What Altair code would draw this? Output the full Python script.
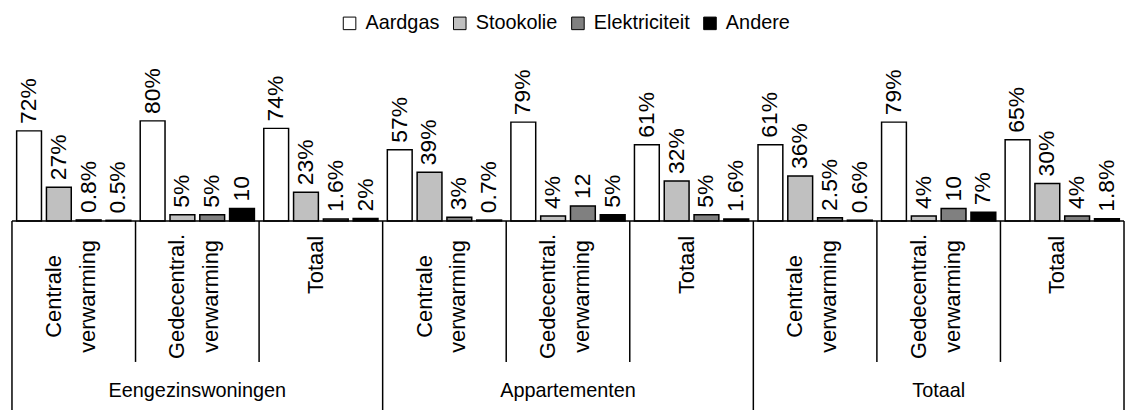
import altair as alt
import pandas as pd

FONT = "Liberation Sans"

outer_groups = ["Eengezinswoningen", "Appartementen", "Totaal"]
inner_groups = ["Centrale\nverwarming", "Gedecentral.\nverwarming", "Totaal"]
series = ["Aardgas", "Stookolie", "Elektriciteit", "Andere"]
series_colors = ["#ffffff", "#c0c0c0", "#808080", "#000000"]

aardgas = [72, 80, 74, 57, 79, 61, 61, 79, 65]
stookolie = [27, 5, 23, 39, 4, 32, 36, 4, 30]
elektriciteit = [0.8, 5, 1.6, 3, 12, 5, 2.5, 10, 4]
andere = [0.5, 10, 2, 0.7, 5, 1.6, 0.6, 7, 1.8]

aardgas_labels = ["72%", "80%", "74%", "57%", "79%", "61%", "61%", "79%", "65%"]
stookolie_labels = ["27%", "5%", "23%", "39%", "4%", "32%", "36%", "4%", "30%"]
elektriciteit_labels = ["0.8%", "5%", "1.6%", "3%", "12", "5%", "2.5%", "10", "4%"]
andere_labels = ["0.5%", "10", "2%", "0.7%", "5%", "1.6%", "0.6%", "7%", "1.8%"]

# build tables
keys, cell_outer, cell_inner, cell_pos = [], [], [], []
for oi, o in enumerate(outer_groups):
    for ii, inn in enumerate(inner_groups):
        keys.append(f"{oi}-{ii}")
        cell_outer.append(o)
        cell_inner.append(inn)
        cell_pos.append(ii)
cells = pd.DataFrame({"sub": keys, "outer": cell_outer, "inner": cell_inner, "pos": cell_pos})

rows = []
for s, vals, labs in zip(series,
                         [aardgas, stookolie, elektriciteit, andere],
                         [aardgas_labels, stookolie_labels, elektriciteit_labels, andere_labels]):
    for k, v, l in zip(keys, vals, labs):
        rows.append({"sub": k, "series": s, "value": v, "label": l})
bars_df = pd.DataFrame(rows)

W = 1120
H = 126

x_scale = alt.Scale(domain=keys, paddingInner=0, paddingOuter=0)
xo_scale = alt.Scale(domain=series, paddingInner=0.167, paddingOuter=0.157)
y_scale = alt.Scale(domain=[0, 100], nice=False, zero=True)
fill_scale = alt.Scale(domain=series, range=series_colors)

X = alt.X("sub:N", scale=x_scale, axis=None, sort=keys)
XO = alt.XOffset("series:N", scale=xo_scale, sort=series)
Y = alt.Y("value:Q", scale=y_scale, axis=None)

base = alt.Chart(bars_df)
bars = base.mark_bar(stroke="black", strokeWidth=1.5).encode(
    x=X, xOffset=XO, y=Y,
    fill=alt.Fill("series:N", scale=fill_scale, sort=series,
                  legend=alt.Legend(title=None, orient="none", legendX=330, legendY=-83,
                                    direction="horizontal", symbolType="square",
                                    symbolSize=160, symbolStrokeColor="black",
                                    symbolStrokeWidth=1, labelFont=FONT, labelFontSize=20,
                                    labelColor="black", labelOffset=6, columnPadding=10,
                                    padding=0)),
)
labels = base.mark_text(angle=270, align="left", baseline="middle", dx=7,
                        fontSize=23, font=FONT, color="black").encode(
    x=X, xOffset=XO, y=Y, text="label:N"
)

cb = alt.Chart(cells)
Xs = alt.X("sub:N", scale=x_scale, axis=None, sort=keys, bandPosition=0)
baseline = cb.transform_filter("datum.pos == 0 && datum.outer == 'Eengezinswoningen'").mark_rule(
    color="black", strokeWidth=1.5).encode(x=alt.value(0), x2=alt.value(W), y=alt.value(H))
inner_rules = cb.transform_filter("datum.pos > 0").mark_rule(color="black", strokeWidth=1.5).encode(
    x=Xs, y=alt.value(H), y2=alt.value(268))
outer_rules = cb.transform_filter("datum.pos == 0").mark_rule(color="black", strokeWidth=1.5).encode(
    x=Xs, y=alt.value(H), y2=alt.value(330))
right_rule = cb.transform_filter(f"datum.sub == '{keys[-1]}'").mark_rule(color="black", strokeWidth=1.5).encode(
    x=alt.X("sub:N", scale=x_scale, axis=None, sort=keys, bandPosition=1),
    y=alt.value(H), y2=alt.value(330))

Xc = alt.X("sub:N", scale=x_scale, axis=None, sort=keys)
two_line = cb.transform_filter("datum.pos < 2").mark_text(
    angle=270, align="center", baseline="middle", lineBreak="\n", lineHeight=34,
    fontSize=22, font=FONT, color="black", dy=-20).encode(
    x=Xc, y=alt.value(202), text="inner:N")
single_line = cb.transform_filter("datum.pos == 2").mark_text(
    angle=270, align="right", baseline="middle", fontSize=22, font=FONT, color="black",
    dy=-5).encode(
    x=Xc, y=alt.value(141), text="inner:N")
outer_text = cb.transform_filter("datum.pos == 1").mark_text(
    align="center", baseline="middle", fontSize=20, font=FONT, color="black").encode(
    x=Xc, y=alt.value(297), text="outer:N")

chart = alt.layer(bars, labels, baseline, inner_rules, outer_rules, right_rule,
                  two_line, single_line, outer_text).properties(
    width=W, height=H,
    padding={"left": 4, "top": 87, "right": 2, "bottom": 200},
    autosize=alt.AutoSizeParams(type="none"),
).configure_view(stroke=None)

chart.save("out.html", embed_options={"renderer": "svg", "actions": False})
